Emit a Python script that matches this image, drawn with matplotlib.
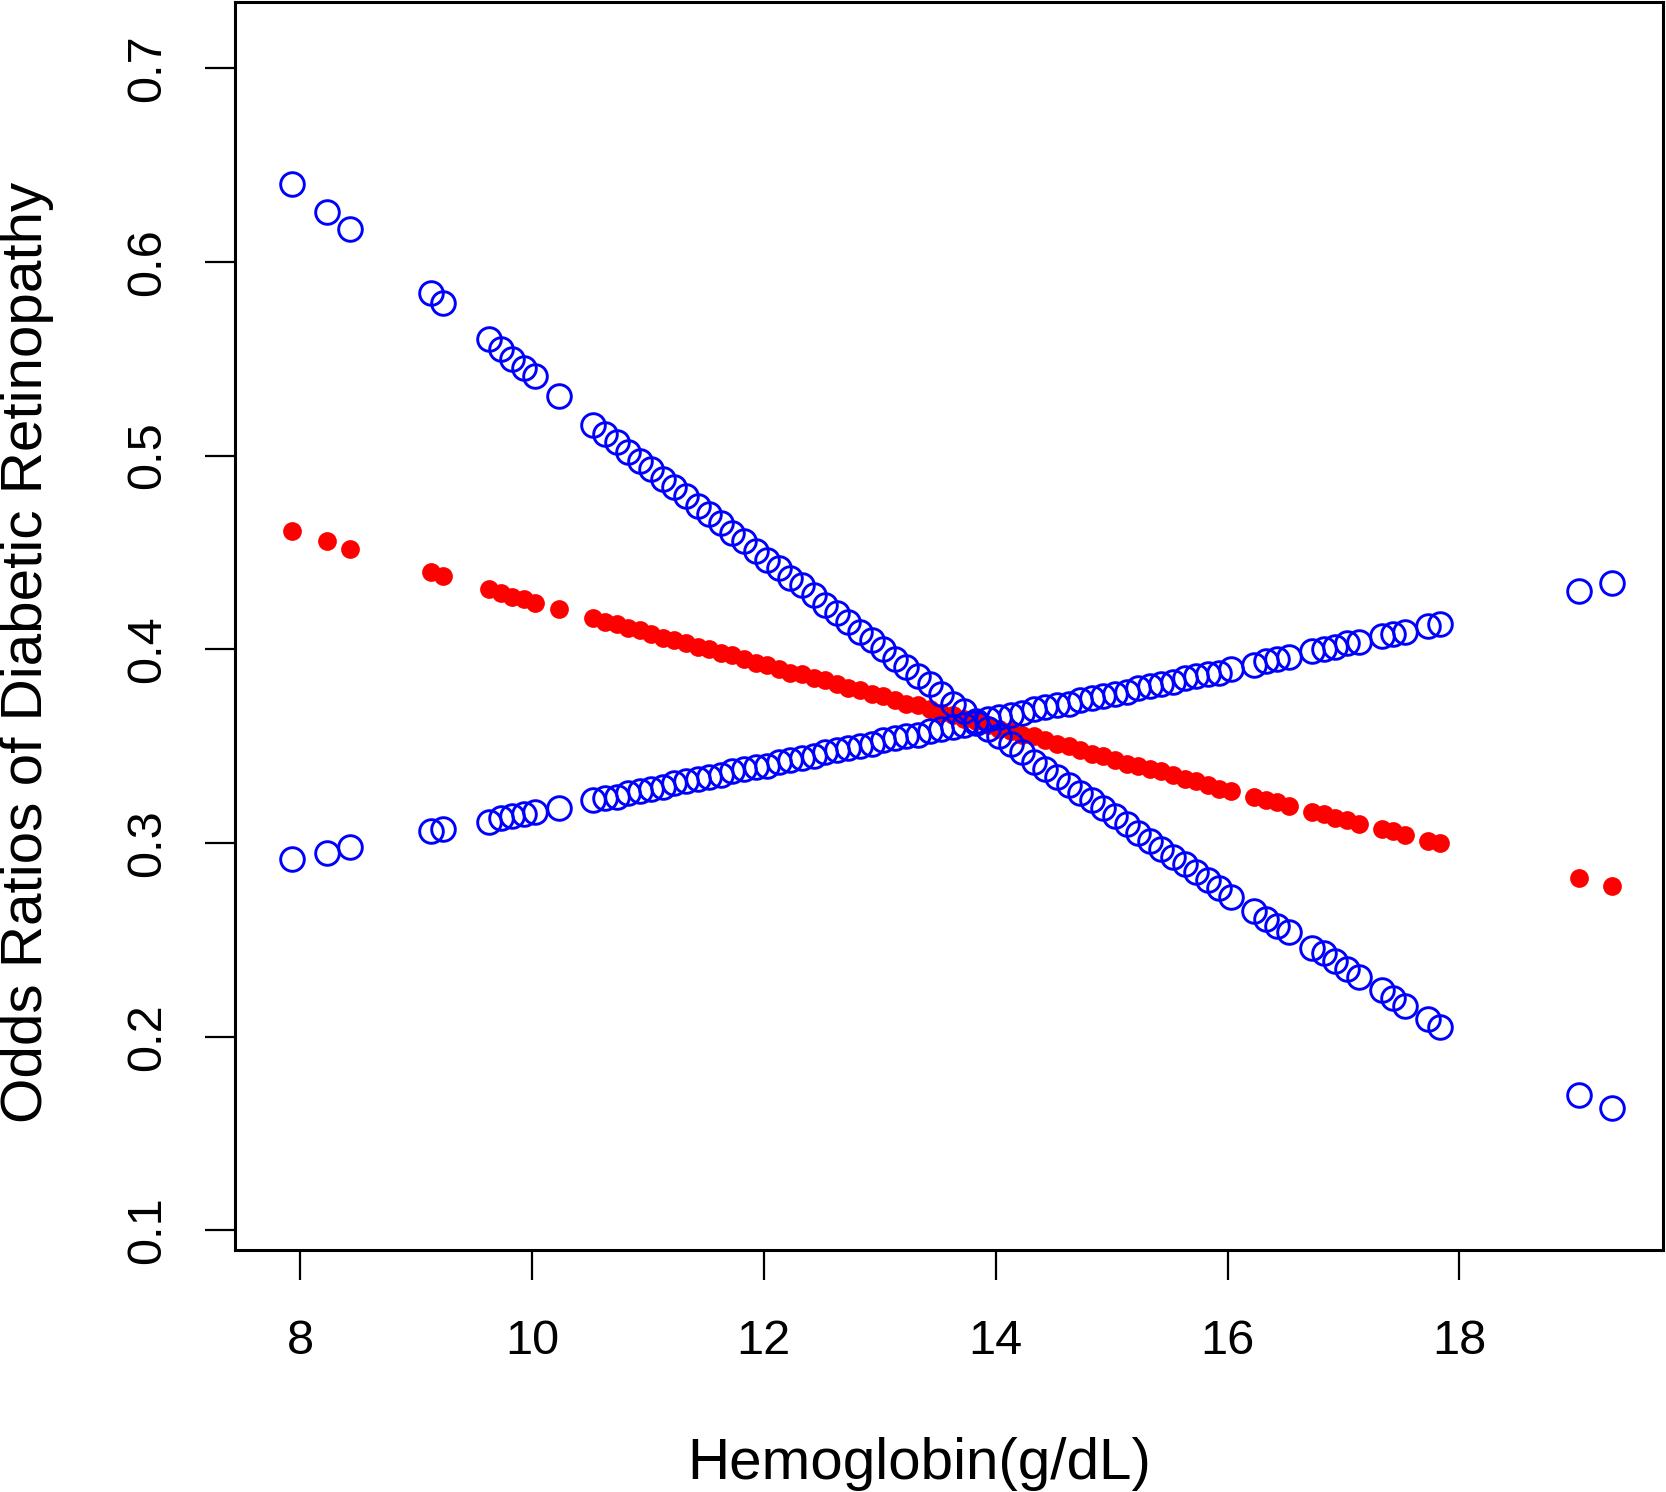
import matplotlib
matplotlib.use("Agg")
import matplotlib.pyplot as plt

plt.rcParams['font.family'] = ['Liberation Sans', 'DejaVu Sans']

hb = [7.93, 8.23, 8.43, 9.13, 9.23, 9.63, 9.73, 9.83, 9.93, 10.03, 10.23,
      10.53, 10.63, 10.73, 10.83, 10.93, 11.03, 11.13, 11.23, 11.33, 11.43,
      11.53, 11.63, 11.73, 11.83, 11.93, 12.03, 12.13, 12.23, 12.33, 12.43,
      12.53, 12.63, 12.73, 12.83, 12.93, 13.03, 13.13, 13.23, 13.33, 13.43,
      13.53, 13.63, 13.73, 13.83, 13.93, 14.03, 14.13, 14.23, 14.33, 14.43,
      14.53, 14.63, 14.73, 14.83, 14.93, 15.03, 15.13, 15.23, 15.33, 15.43,
      15.53, 15.63, 15.73, 15.83, 15.93, 16.03,
      16.23, 16.33, 16.43, 16.53, 16.73, 16.83, 16.93, 17.03, 17.13,
      17.33, 17.43, 17.53, 17.73, 17.83, 19.03, 19.32]

odds_ratio = [0.461, 0.456, 0.452, 0.440, 0.438, 0.431, 0.429, 0.427, 0.426, 0.424, 0.421,
              0.416, 0.414, 0.413, 0.411, 0.410, 0.408, 0.406, 0.405, 0.403, 0.401,
              0.400, 0.398, 0.397, 0.395, 0.393, 0.392, 0.390, 0.388, 0.387, 0.385,
              0.384, 0.382, 0.380, 0.379, 0.377, 0.376, 0.374, 0.372, 0.371, 0.369,
              0.367, 0.366, 0.364, 0.363, 0.361, 0.359, 0.358, 0.356, 0.355, 0.353,
              0.351, 0.350, 0.348, 0.346, 0.345, 0.343, 0.341, 0.340, 0.338, 0.337,
              0.335, 0.333, 0.332, 0.330, 0.328, 0.327,
              0.324, 0.322, 0.321, 0.319, 0.316, 0.315, 0.313, 0.312, 0.310,
              0.307, 0.306, 0.304, 0.301, 0.300, 0.282, 0.278]

ci_a = [0.292, 0.295, 0.298, 0.306, 0.307, 0.311, 0.313, 0.314, 0.315, 0.316, 0.318,
        0.322, 0.323, 0.324, 0.326, 0.327, 0.328, 0.329, 0.331, 0.332, 0.333,
        0.334, 0.335, 0.337, 0.338, 0.339, 0.340, 0.342, 0.343, 0.344, 0.345,
        0.347, 0.348, 0.349, 0.350, 0.351, 0.353, 0.354, 0.355, 0.356, 0.358,
        0.359, 0.360, 0.361, 0.362, 0.364, 0.365, 0.366, 0.367, 0.369, 0.370,
        0.371, 0.372, 0.374, 0.375, 0.376, 0.377, 0.378, 0.380, 0.381, 0.382,
        0.383, 0.385, 0.386, 0.387, 0.388, 0.390,
        0.392, 0.394, 0.395, 0.396, 0.399, 0.400, 0.401, 0.403, 0.404,
        0.407, 0.408, 0.409, 0.412, 0.413, 0.430, 0.434]

ci_b = [0.640, 0.626, 0.617, 0.584, 0.579, 0.560, 0.555, 0.550, 0.545, 0.541, 0.531,
        0.516, 0.511, 0.507, 0.502, 0.497, 0.493, 0.488, 0.484, 0.479, 0.474,
        0.470, 0.465, 0.460, 0.456, 0.451, 0.446, 0.442, 0.437, 0.433, 0.428,
        0.423, 0.419, 0.414, 0.409, 0.405, 0.400, 0.395, 0.391, 0.386, 0.382,
        0.377, 0.372, 0.368, 0.363, 0.359, 0.355, 0.351, 0.347, 0.342, 0.338,
        0.334, 0.330, 0.326, 0.322, 0.318, 0.314, 0.310, 0.305, 0.301, 0.297,
        0.293, 0.289, 0.285, 0.281, 0.277, 0.272,
        0.265, 0.261, 0.257, 0.254, 0.246, 0.243, 0.239, 0.235, 0.231,
        0.224, 0.220, 0.216, 0.209, 0.205, 0.170, 0.163]

x_ticks = [8, 10, 12, 14, 16, 18]
y_ticks = [0.1, 0.2, 0.3, 0.4, 0.5, 0.6, 0.7]
x_label = "Hemoglobin(g/dL)"
y_label = "Odds Ratios of Diabetic Retinopathy"

fig = plt.figure(figsize=(16.66, 14.92), dpi=100)
ax = fig.add_axes([0.1411, 0.1622, 0.8571, 0.8365])

ax.plot(hb, odds_ratio, linestyle='none', marker='o', markersize=13.5,
        markerfacecolor='#ff0000', markeredgecolor='#ff0000', markeredgewidth=0)
ax.plot(hb, ci_a, linestyle='none', marker='o', markersize=17,
        markerfacecolor='none', markeredgecolor='#0000ff', markeredgewidth=2.1)
ax.plot(hb, ci_b, linestyle='none', marker='o', markersize=17,
        markerfacecolor='none', markeredgecolor='#0000ff', markeredgewidth=2.1)

ax.set_xlim(7.44, 19.756)
ax.set_ylim(0.0899, 0.7342)
ax.set_xticks(x_ticks)
ax.set_xticklabels([str(v) for v in x_ticks])
ax.set_yticks(y_ticks)
ax.set_yticklabels([f"{v:.1f}" for v in y_ticks], rotation=90, va='center')

for s in ax.spines.values():
    s.set_linewidth(2.2)
    s.set_color('black')

ax.tick_params(axis='both', direction='out', length=21.5, width=1.6,
               labelsize=35, colors='black')
ax.tick_params(axis='x', pad=28)
ax.tick_params(axis='y', pad=25)

fig.text(0.552, 0.019, x_label, fontsize=42, ha='center', va='center')
fig.text(0.016, 0.563, y_label, fontsize=42, ha='center', va='center', rotation=90)

fig.savefig("out.png", dpi=100, facecolor='white')
